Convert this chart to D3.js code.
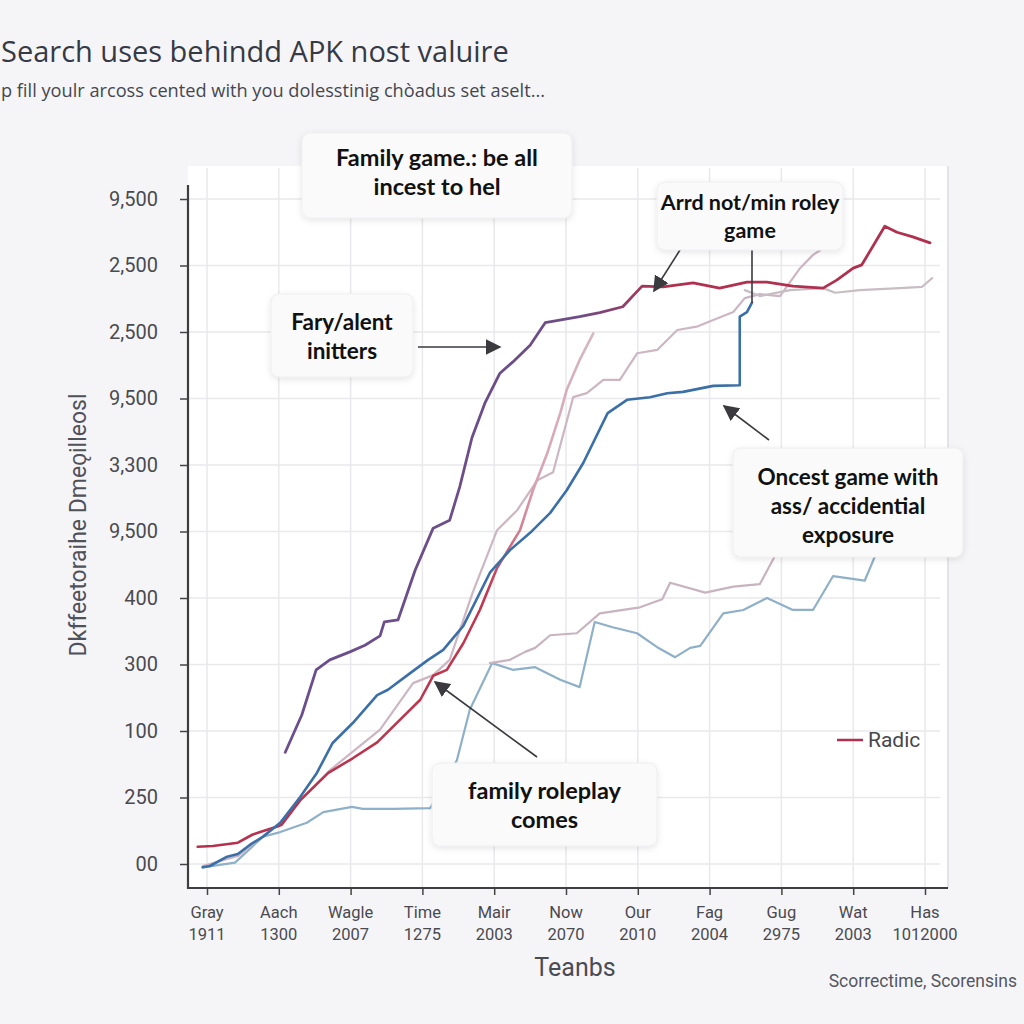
<!DOCTYPE html>
<html><head><meta charset="utf-8">
<script src="https://cdn.jsdelivr.net/npm/d3@7"></script>
<style>
html,body{margin:0;padding:0;background:#f5f5f7;}
svg{display:block;}
</style></head>
<body>
<svg id="chart" width="1024" height="1024"></svg>
<script>
// ---------- data ----------
const xTickNames = ["Gray","Aach","Wagle","Time","Mair","Now","Our","Fag","Gug","Wat","Has"];
const xTickYears = ["1911","1300","2007","1275","2003","2070","2010","2004","2975","2003","1012000"];
const yTickLabels = ["00","250","100","300","400","9,500","3,300","9,500","2,500","2,500","9,500"];

const purpleX = [10.9,13.2,15.2,17.1,19.9,22.0,24.1,24.7,26.6,29.0,31.5,33.8,35.2,36.9,38.7,40.8,42.6,45.0,47.1,51.9,54.7,57.9,60.6,63.5,67.7,71.4,75.2,78.0,81.6,85.8,87.7,90.0,91.2,94.4,96.1,98.3,100.7];
const purpleY = [16.8,22.4,29.2,30.7,31.9,32.9,34.3,36.4,36.7,44.2,50.5,51.7,56.7,64.1,69.3,73.8,75.5,78.0,81.4,82.3,82.9,83.8,86.9,86.8,87.4,86.6,87.5,87.5,86.9,86.6,87.8,89.6,90.1,95.9,95.0,94.3,93.4];

const redX = [-1.3,0.8,4.3,6.3,7.4,9.7,10.4,13.0,16.9,20.3,23.7,26.9,29.7,31.5,33.4,35.7,38.0,40.4,43.6,45.4,47.4,49.2,50.1,51.9,53.8];
const redY = [2.6,2.7,3.2,4.4,4.8,5.6,5.9,9.6,13.7,15.9,18.3,21.7,24.7,28.3,29.2,33.2,38.2,44.5,50.2,56.2,61.8,67.8,71.3,75.8,79.8];

const blueX = [-0.6,0.4,2.8,4.3,6.0,7.8,10.2,13.0,15.3,17.5,20.3,23.7,25.2,28.3,30.8,32.9,35.7,39.4,42.2,45.0,47.8,50.1,52.4,55.8,58.5,61.7,64.1,66.3,70.5,74.2,74.2,75.2,75.9];
const blueY = [-0.5,-0.3,1.1,1.5,2.9,4.1,6.2,10.1,13.7,18.2,21.2,25.4,26.2,28.7,30.7,32.2,35.8,43.8,47.2,49.8,52.8,56.2,60.3,67.8,69.8,70.2,70.8,71.0,71.9,72.0,82.3,83.0,84.4];

const steelX = [-0.6,3.9,7.8,10.2,13.9,16.2,20.2,21.7,25.9,31.1,34.8,36.6,39.7,42.6,45.7,49.2,51.9,54.0,56.5,59.9,62.7,65.2,67.3,68.7,71.9,74.7,78.0,81.6,84.4,87.2,91.6,93.7];
const steelY = [-0.5,0.2,4.1,4.8,6.2,7.8,8.6,8.3,8.3,8.4,15.6,23.2,30.2,29.2,29.6,27.7,26.6,36.4,35.6,34.7,32.6,31.1,32.5,32.8,37.7,38.2,40.0,38.2,38.2,43.3,42.6,48.0];

const mauveLowX = [39.4,42.2,44.3,45.7,47.8,51.5,54.7,60.3,63.4,64.5,69.4,73.3,77.0,78.8,80.1];
const mauveLowY = [30.2,30.7,31.9,32.5,34.4,34.7,37.7,38.6,39.8,42.3,40.8,41.7,42.1,45.7,48.7];

const mauveHighX = [-0.6,4.3,7.4,10.2,13.0,17.1,24.1,28.7,31.5,33.8,37.0,40.4,43.2,46.0,48.2,51.0,52.9,55.2,57.5,59.9,62.7,65.5,68.2,70.5,73.3,74.9,77.0,79.8,82.6,84.4,85.4];
const mauveHighY = [-0.3,1.2,3.9,6.2,9.6,14.1,20.2,27.2,28.4,30.7,40.8,50.2,53.2,57.7,58.9,70.2,70.8,72.8,72.8,76.8,77.3,80.3,80.8,81.8,83.0,85.1,85.7,85.4,89.6,91.6,92.3];

const greyX = [74.9,77.0,81.2,85.8,87.5,90.9,96.5,99.6,101.0];
const greyY = [86.3,85.4,86.3,86.6,85.9,86.3,86.6,86.8,88.1];

const legendLabel = "Radic";

// ---------- drawing ----------
const svg = d3.select("#chart");
const x = d3.scaleLinear().domain([0,100]).range([207,925]);
const y = d3.scaleLinear().domain([0,100]).range([864,199]);
const zip = (xs, ys) => xs.map((v,i)=>[v, ys[i]]);
const line = d3.line().x(d=>x(d[0])).y(d=>y(d[1]));

const defs = svg.append("defs");
const sh = defs.append("filter").attr("id","shadow").attr("x","-20%").attr("y","-20%").attr("width","140%").attr("height","150%");
sh.append("feDropShadow").attr("dx",0).attr("dy",2).attr("stdDeviation",3).attr("flood-color","#000").attr("flood-opacity",0.10);

function grad(id, stops, x1, x2){
  const g = defs.append("linearGradient").attr("id",id).attr("gradientUnits","userSpaceOnUse")
    .attr("x1",x(x1)).attr("x2",x(x2)).attr("y1",0).attr("y2",0);
  stops.forEach(s=>g.append("stop").attr("offset",s[0]).attr("stop-color",s[1]));
}
grad("gPurple", [[0,"#6a4f8d"],[0.6,"#6e4d86"],[0.76,"#b0304f"],[1,"#b0304f"]], 10, 80);
grad("gRed", [[0,"#b3304d"],[0.72,"#c0384f"],[0.85,"#d9a3b3"],[1,"#d6b8c3"]], 0, 54);

// background panel
svg.append("rect").attr("x",188).attr("y",166).attr("width",760).attr("height",722).attr("fill","#ffffff");
svg.append("line").attr("x1",948).attr("x2",948).attr("y1",166).attr("y2",888).attr("stroke","#dcdcdf").attr("stroke-width",1.5);

// grid
const tickVals = d3.range(0,101,10);
svg.append("g").selectAll("line").data(tickVals).join("line")
  .attr("x1",d=>x(d)).attr("x2",d=>x(d)).attr("y1",168).attr("y2",888)
  .attr("stroke","#e9e9ec").attr("stroke-width",1.5);
svg.append("g").selectAll("line").data(tickVals).join("line")
  .attr("x1",188).attr("x2",940).attr("y1",d=>y(d)).attr("y2",d=>y(d))
  .attr("stroke","#e9e9ec").attr("stroke-width",1.5);

// series
const series = [
  {d:zip(steelX,steelY), c:"#8eb0c8", w:2.2},
  {d:zip(mauveLowX,mauveLowY), c:"#c8b3bf", w:2.2},
  {d:zip(mauveHighX,mauveHighY), c:"#cdb6c2", w:2.2},
  {d:zip(greyX,greyY), c:"#c9bdc4", w:2.2},
  {d:zip(redX,redY), c:"url(#gRed)", w:2.6},
  {d:zip(blueX,blueY), c:"#3b6fa8", w:2.6},
  {d:zip(purpleX,purpleY), c:"url(#gPurple)", w:2.8},
];
svg.append("g").selectAll("path").data(series).join("path")
  .attr("d",s=>line(s.d)).attr("fill","none").attr("stroke",s=>s.c)
  .attr("stroke-width",s=>s.w).attr("stroke-linejoin","round").attr("stroke-linecap","round");

// axes
const yAxis = d3.axisLeft(y).tickValues(tickVals).tickFormat((d,i)=>yTickLabels[i]).tickSize(8).tickPadding(22);
const gy = svg.append("g").attr("transform","translate(188,0)").call(yAxis);
gy.select(".domain").remove();
gy.selectAll(".tick line").attr("stroke","#444").attr("stroke-width",1.5);
gy.selectAll(".tick text").attr("fill","#4a4a50").attr("font-family","Roboto, sans-serif").attr("font-size",20);

const xAxis = d3.axisBottom(x).tickValues(tickVals).tickFormat("").tickSize(7);
const gx = svg.append("g").attr("transform","translate(0,888)").call(xAxis);
gx.select(".domain").remove();
gx.selectAll(".tick line").attr("stroke","#444").attr("stroke-width",1.5);
const lab = svg.append("g").selectAll("text").data(tickVals).join("text")
  .attr("x",d=>x(d)).attr("text-anchor","middle").attr("fill","#4a4a50")
  .attr("font-family","Roboto, sans-serif").attr("font-size",16.5);
lab.append("tspan").attr("x",d=>x(d)).attr("y",918).text((d,i)=>xTickNames[i]);
lab.append("tspan").attr("x",d=>x(d)).attr("y",940).text((d,i)=>xTickYears[i]);

svg.append("line").attr("x1",188).attr("x2",188).attr("y1",185).attr("y2",889).attr("stroke","#3d3d42").attr("stroke-width",2.2);
svg.append("line").attr("x1",187).attr("x2",948).attr("y1",888).attr("y2",888).attr("stroke","#3d3d42").attr("stroke-width",2.2);

// titles
svg.append("text").attr("x",1).attr("y",62).attr("fill","#353a45")
  .attr("font-family","'Open Sans', sans-serif").attr("font-size",29).text("Search uses behindd APK nost valuire");
svg.append("text").attr("x",1).attr("y",97).attr("fill","#45474f")
  .attr("font-family","'Open Sans', sans-serif").attr("font-size",18.2).text("p fill youlr arcoss cented with you dolesstinig chòadus set aselt...");
svg.append("text").attr("transform","translate(86,525) rotate(-90)").attr("text-anchor","middle").attr("fill","#50525a")
  .attr("font-family","Roboto, sans-serif").attr("font-size",23).text("Dkffeetoraihe Dmeǫilleosl");
svg.append("text").attr("x",575).attr("y",976).attr("text-anchor","middle").attr("fill","#4a4c54")
  .attr("font-family","Roboto, sans-serif").attr("font-size",25).text("Teanbs");
svg.append("text").attr("x",1017).attr("y",987).attr("text-anchor","end").attr("fill","#55575f")
  .attr("font-family","Roboto, sans-serif").attr("font-size",17.5).text("Scorrectime, Scorensins");

// legend
svg.append("line").attr("x1",837).attr("x2",863).attr("y1",740).attr("y2",740).attr("stroke","#b0304f").attr("stroke-width",2.5);
svg.append("text").attr("x",868).attr("y",747).attr("fill","#45474f")
  .attr("font-family","Roboto, sans-serif").attr("font-size",21).text(legendLabel);

// arrows
const mk = defs.append("marker").attr("id","arr").attr("viewBox","0 0 10 10").attr("refX",9).attr("refY",5)
  .attr("markerWidth",16).attr("markerHeight",16).attr("orient","auto-start-reverse").attr("markerUnits","userSpaceOnUse");
mk.append("path").attr("d","M0,0 L10,5 L0,10 z").attr("fill","#3a3a3f");
function arrow(x1,y1,x2,y2,head=true){
  const l = svg.append("line").attr("x1",x1).attr("y1",y1).attr("x2",x2).attr("y2",y2)
    .attr("stroke","#3a3a3f").attr("stroke-width",1.6);
  if(head) l.attr("marker-end","url(#arr)");
}
arrow(418,347,500,347);
arrow(680,250,654,291);
arrow(752,250,752,303,false);
arrow(769,440,724,406);
arrow(537,757,435,682);

// annotation boxes
function box(x0,y0,w,h,lines,cy,lh,fs){
  svg.append("rect").attr("x",x0).attr("y",y0).attr("width",w).attr("height",h).attr("rx",8)
    .attr("fill","#fafafa").attr("stroke","#eeeeef").attr("filter","url(#shadow)");
  const t = svg.append("text").attr("text-anchor","middle").attr("fill","#111")
    .attr("font-family","Lato, 'Noto Sans', sans-serif").attr("font-weight",700).attr("font-size",fs);
  lines.forEach((s,i)=>t.append("tspan").attr("x",x0+w/2).attr("y",cy+i*lh).text(s));
}
box(302,133,270,85,["Family game.: be all","incest to hel"],166,29,23.5);
box(271,294,142,83,["Fary/alent","initters"],330,29,22.5);
box(657,182,186,68,["Arrd not/min roley","game"],210,28,21.5);
box(733,448,230,109,["Oncest game with","ass/ accidential","exposure"],485,29,22.5);
box(432,763,225,83,["family roleplay","comes"],799,29,23.5);
</script>
</body></html>
